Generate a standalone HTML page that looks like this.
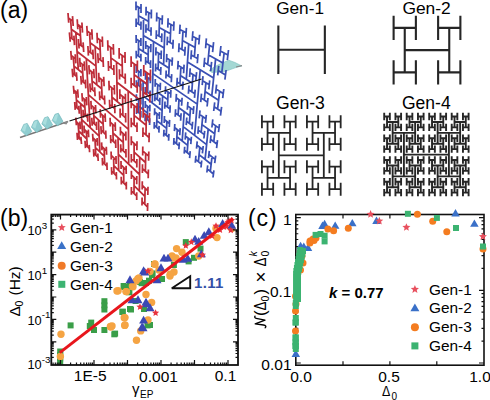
<!DOCTYPE html><html><head><meta charset="utf-8"><style>
html,body{margin:0;padding:0;background:#fff;width:490px;height:400px;overflow:hidden}
svg{display:block}
text{font-family:"Liberation Sans",sans-serif}
</style></head><body>
<svg width="490" height="400" viewBox="0 0 490 400">
<rect width="490" height="400" fill="#fff"/>
<path d="M20 137.5 L68 121.5" stroke="#777" stroke-width="1.6"/>
<path d="M209 70.5 L215 66.5 L222 63 L228.7 60.2 L235 62.5 L241.7 65.9 L236 67.5 L224.6 71.6 L212 72.5 Z" fill="#9ad4cf" fill-opacity="0.9" stroke="#7cc0bd" stroke-width="0.6"/>
<path d="M236 67 L242 65.6" stroke="#888" stroke-width="1.2"/>
<path d="M153.5 41.5L152.3 103.0M200.2 69.7L194.6 135.4M152.9 73.6L197.2 104.1M143.5 18.6L143.3 51.5M164.8 30.5L163.6 64.7M143.4 35.4L164.2 48.0M138.5 7.2L138.5 24.2M148.7 12.6L148.5 30.0M138.5 15.8L148.6 21.4M136.0 1.5L136.0 10.2M141.0 4.1L141.0 12.9M136.0 5.9L141.0 8.5M136.1 18.6L136.1 26.9M141.0 21.4L140.9 29.8M136.1 22.8L140.9 25.6M146.1 6.8L146.0 15.6M151.4 9.6L151.3 18.5M146.1 11.3L151.3 14.1M146.0 24.3L145.9 32.7M151.1 27.2L151.0 35.8M145.9 28.5L151.1 31.5M138.5 40.5L138.5 56.1M148.3 46.6L148.1 62.5M138.5 48.4L148.2 54.7M136.1 35.0L136.2 43.0M140.9 38.0L140.9 46.0M136.2 39.0L140.9 42.0M136.2 50.8L136.3 58.4M140.9 53.8L140.9 61.5M136.2 54.6L140.9 57.7M145.8 41.0L145.8 49.1M150.9 44.1L150.7 52.3M145.8 45.1L150.8 48.2M145.7 57.0L145.6 64.7M150.6 60.2L150.5 68.0M145.7 60.9L150.6 64.2M159.5 18.4L159.0 36.1M170.9 24.5L170.1 42.6M159.2 27.4L170.5 33.7M156.8 12.4L156.6 21.4M162.4 15.3L162.1 24.5M156.7 17.0L162.3 19.9M156.4 30.3L156.2 38.9M161.9 33.4L161.6 42.1M156.3 34.6L161.7 37.7M168.1 18.3L167.8 27.6M174.0 21.4L173.6 30.8M168.0 23.0L173.8 26.1M167.5 36.6L167.1 45.3M173.2 39.8L172.8 48.7M167.3 41.0L173.0 44.3M158.6 53.1L158.1 69.2M169.4 59.9L168.7 76.3M158.3 61.2L169.1 68.2M156.0 47.3L155.8 55.5M161.3 50.6L161.1 58.9M155.9 51.4L161.2 54.7M155.7 63.6L155.5 71.4M160.9 67.0L160.6 74.9M155.6 67.5L160.7 71.0M166.8 53.9L166.5 62.3M172.4 57.4L172.0 65.8M166.6 58.1L172.2 61.6M166.2 70.5L165.9 78.5M171.7 74.1L171.3 82.2M166.0 74.5L171.5 78.1M143.1 81.7L143.0 109.5M162.6 95.9L161.6 124.5M143.1 95.9L162.1 110.5M138.6 71.1L138.6 85.5M147.9 77.7L147.7 92.3M138.6 78.4L147.8 85.1M136.3 65.8L136.3 73.1M140.9 69.0L140.9 76.4M136.3 69.5L140.9 72.7M136.4 80.3L136.4 87.3M140.8 83.6L140.8 90.7M136.4 83.8L140.8 87.1M145.6 72.3L145.5 79.7M150.4 75.7L150.3 83.2M145.5 76.0L150.3 79.4M145.4 87.0L145.4 94.1M150.1 90.5L150.0 97.6M145.4 90.6L150.1 94.1M138.6 99.3L138.6 112.5M147.6 106.3L147.4 119.7M138.6 106.0L147.5 113.1M136.4 94.2L136.4 100.9M140.8 97.6L140.8 104.4M136.4 97.6L140.8 101.0M136.5 107.5L136.5 114.0M140.8 111.0L140.8 117.5M136.5 110.8L140.8 114.3M145.3 101.1L145.3 107.9M149.9 104.7L149.8 111.5M145.3 104.5L149.9 108.1M145.2 114.6L145.1 121.2M149.7 118.3L149.6 124.9M145.2 117.9L149.7 121.6M157.7 84.7L157.3 99.5M168.1 92.0L167.5 107.1M157.5 92.2L167.8 99.6M155.3 79.1L155.1 86.7M160.4 82.7L160.2 90.3M155.2 82.9L160.3 86.5M155.0 94.0L154.8 101.3M159.9 97.7L159.7 105.0M154.9 97.7L159.8 101.4M165.6 86.3L165.3 94.0M170.9 90.0L170.6 97.8M165.4 90.2L170.8 93.9M165.0 101.5L164.7 108.8M170.2 105.3L169.9 112.7M164.9 105.1L170.1 109.0M157.0 113.7L156.6 127.3M166.9 121.5L166.3 135.3M156.8 120.6L166.6 128.4M154.7 108.3L154.5 115.3M159.5 112.1L159.3 119.1M154.6 111.8L159.4 115.6M154.3 122.0L154.2 128.7M159.1 125.9L158.9 132.6M154.3 125.4L159.0 129.3M164.5 116.0L164.2 123.0M169.6 119.9L169.3 127.0M164.3 119.5L169.4 123.5M164.0 129.8L163.7 136.6M168.9 133.9L168.6 140.7M163.8 133.2L168.8 137.3M188.7 43.9L186.3 79.4M215.6 58.9L211.8 95.8M187.5 62.0L213.6 77.9M183.0 31.0L181.9 49.5M195.8 37.9L194.4 56.8M182.4 40.4L195.1 47.5M180.1 24.6L179.6 34.0M186.4 27.9L185.8 37.4M179.9 29.4L186.1 32.7M179.1 43.2L178.7 52.2M185.2 46.7L184.7 55.8M178.9 47.7L185.0 51.3M192.9 31.3L192.2 40.9M199.6 34.8L198.8 44.5M192.5 36.2L199.2 39.7M191.5 50.3L190.9 59.4M198.0 54.0L197.3 63.2M191.2 54.9L197.6 58.6M180.9 67.1L179.9 83.8M193.0 74.7L191.8 91.7M180.4 75.5L192.4 83.3M178.2 60.9L177.7 69.5M184.1 64.6L183.6 73.2M178.0 65.2L183.9 68.9M177.3 77.8L176.8 85.9M183.1 81.6L182.6 89.8M177.1 81.9L182.8 85.7M190.2 68.3L189.6 77.0M196.6 72.2L195.8 81.0M189.9 72.7L196.2 76.6M189.0 85.5L188.4 93.8M195.2 89.6L194.5 97.9M188.7 89.7L194.8 93.8M209.5 45.3L207.7 64.5M224.1 53.1L221.8 72.7M208.6 55.0L222.9 63.0M206.4 38.4L205.6 48.3M213.6 42.2L212.6 52.1M206.0 43.4L213.1 47.2M204.7 57.8L203.9 67.1M211.6 61.8L210.7 71.2M204.3 62.5L211.1 66.5M220.9 46.0L219.8 56.1M228.5 50.0L227.3 60.1M220.3 51.1L227.9 55.1M218.7 65.8L217.7 75.3M226.1 70.0L224.9 79.6M218.2 70.6L225.5 74.9M205.9 82.7L204.3 100.1M219.6 91.3L217.6 109.0M205.1 91.5L218.6 100.3M203.0 76.2L202.2 85.1M209.7 80.3L208.8 89.3M202.6 80.7L209.3 84.8M201.5 93.7L200.7 102.1M208.0 98.0L207.1 106.5M201.1 97.9L207.5 102.3M216.6 84.6L215.6 93.6M223.8 89.0L222.7 98.1M216.1 89.1L223.2 93.6M214.7 102.4L213.7 111.0M221.6 106.9L220.5 115.6M214.2 106.7L221.0 111.3M184.2 111.6L182.2 141.0M208.2 129.1L205.1 159.4M183.2 126.6L206.6 144.6M179.0 99.8L178.1 115.0M190.5 108.0L189.4 123.4M178.5 107.5L189.9 115.8M176.4 93.9L176.0 101.7M182.1 97.8L181.6 105.7M176.2 97.8L181.8 101.8M175.6 109.3L175.2 116.7M181.1 113.3L180.6 120.8M175.4 113.0L180.9 117.1M187.9 101.9L187.3 109.8M193.8 106.1L193.2 114.0M187.6 105.9L193.5 110.1M186.8 117.5L186.2 125.1M192.6 121.8L192.0 129.4M186.5 121.3L192.3 125.6M177.3 129.6L176.5 143.6M188.2 138.2L187.2 152.4M176.9 136.7L187.7 145.4M174.8 124.0L174.4 131.1M180.2 128.1L179.7 135.3M174.6 127.5L180.0 131.7M174.0 138.0L173.7 144.9M179.3 142.3L178.9 149.2M173.9 141.5L179.1 145.8M185.7 132.4L185.2 139.6M191.4 136.8L190.8 144.1M185.4 136.0L191.1 140.5M184.7 146.7L184.2 153.6M190.2 151.2L189.6 158.1M184.4 150.2L189.9 154.7M202.7 116.6L201.2 132.3M215.6 125.8L213.8 141.7M202.0 124.6L214.7 133.8M200.0 110.4L199.2 118.4M206.3 114.8L205.5 122.9M199.6 114.4L205.9 118.8M198.5 126.2L197.9 133.9M204.7 130.8L203.9 138.5M198.2 130.1L204.3 134.6M212.8 119.3L211.9 127.5M219.5 124.0L218.5 132.2M212.3 123.4L219.0 128.1M211.0 135.4L210.2 143.2M217.5 140.2L216.6 148.1M210.6 139.3L217.1 144.2M199.8 147.3L198.4 161.7M212.0 156.9L210.3 171.4M199.1 154.6L211.2 164.3M197.2 141.3L196.5 148.6M203.2 146.0L202.4 153.3M196.8 145.0L202.8 149.7M195.9 155.8L195.3 162.8M201.7 160.5L201.0 167.5M195.6 159.3L201.4 164.1M209.3 150.8L208.5 158.2M215.7 155.7L214.7 163.1M208.9 154.5L215.2 159.4M207.7 165.4L206.9 172.5M213.9 170.4L213.0 177.5M207.3 168.9L213.4 174.0" stroke="#3a50b4" stroke-width="1.75" fill="none" stroke-linecap="butt"/>
<path d="M86.3 58.6L90.2 127.7M128.2 91.0L128.7 164.2M88.3 94.7L128.5 129.4M75.8 32.5L78.3 69.6M95.1 46.4L96.8 84.8M77.1 51.5L96.0 66.1M70.6 19.5L72.0 38.7M79.8 25.9L81.1 45.5M71.3 29.2L80.5 35.8M68.0 13.0L68.7 22.8M72.5 16.1L73.2 26.0M68.4 17.9L72.9 21.1M69.4 32.4L70.2 41.8M73.9 35.6L74.5 45.1M69.8 37.1L74.2 40.4M77.2 19.3L77.8 29.2M81.9 22.5L82.5 32.6M77.5 24.3L82.2 27.6M78.4 39.0L79.1 48.5M83.1 42.4L83.7 52.0M78.7 43.8L83.4 47.3M73.3 57.1L74.6 74.8M82.2 64.2L83.3 82.1M74.0 66.1L82.8 73.3M70.8 50.9L71.5 59.9M75.2 54.3L75.8 63.4M71.2 55.4L75.5 58.9M72.2 68.7L72.8 77.3M76.4 72.2L77.0 80.9M72.5 73.0L76.7 76.6M79.7 57.8L80.2 67.0M84.2 61.4L84.8 70.6M80.0 62.4L84.5 66.1M80.8 75.9L81.4 84.6M85.3 79.6L85.8 88.4M81.1 80.3L85.6 84.0M89.6 32.7L90.6 52.6M99.8 39.9L100.6 60.2M90.1 42.8L100.2 50.1M86.8 25.9L87.4 36.0M91.8 29.3L92.3 39.6M87.1 31.0L92.1 34.5M87.9 46.0L88.4 55.6M92.8 49.6L93.3 59.3M88.2 50.8L93.0 54.5M97.0 32.8L97.4 43.2M102.3 36.5L102.6 46.9M97.2 38.0L102.5 41.7M97.8 53.3L98.3 63.1M103.0 57.1L103.4 67.0M98.1 58.2L103.2 62.1M91.6 71.7L92.5 89.8M101.4 79.5L102.1 97.9M92.0 80.9L101.7 88.8M88.9 65.1L89.4 74.4M93.7 68.9L94.2 78.2M89.2 69.8L94.0 73.6M89.9 83.4L90.4 92.3M94.6 87.3L95.1 96.3M90.2 87.9L94.8 91.8M98.7 72.8L99.1 82.2M103.7 76.7L104.1 86.2M98.9 77.5L103.9 81.5M99.5 91.4L99.8 100.3M104.4 95.5L104.8 104.5M99.7 95.9L104.6 100.0M80.6 103.7L82.7 135.0M98.4 119.8L99.9 151.9M81.7 119.6L99.2 136.2M75.8 91.7L77.0 107.9M84.4 99.3L85.4 115.7M76.4 99.8L84.9 107.5M73.4 85.7L74.1 93.9M77.6 89.4L78.2 97.7M73.7 89.8L77.9 93.5M74.7 102.0L75.2 109.9M78.8 105.8L79.3 113.7M75.0 106.0L79.1 109.8M81.9 93.1L82.5 101.5M86.3 97.0L86.8 105.4M82.2 97.3L86.6 101.2M83.0 109.7L83.5 117.7M87.3 113.6L87.8 121.7M83.3 113.7L87.6 117.7M78.1 123.4L79.2 138.4M86.4 131.4L87.3 146.5M78.7 131.0L86.9 139.0M75.8 117.6L76.4 125.2M79.9 121.5L80.4 129.2M76.1 121.5L80.2 125.4M77.0 132.7L77.5 140.0M80.9 136.7L81.5 144.0M77.2 136.4L81.2 140.4M84.0 125.5L84.5 133.2M88.3 129.6L88.7 137.3M84.3 129.4L88.5 133.5M85.0 140.7L85.5 148.1M89.2 144.9L89.6 152.3M85.3 144.4L89.4 148.6M93.4 107.2L94.2 123.8M102.8 115.6L103.5 132.4M93.8 115.6L103.1 124.1M90.9 100.9L91.3 109.4M95.5 105.0L95.9 113.5M91.1 105.2L95.7 109.3M91.8 117.7L92.2 125.8M96.3 121.8L96.7 130.0M92.0 121.8L96.5 125.9M100.2 109.1L100.6 117.7M105.1 113.4L105.4 122.0M100.4 113.4L105.2 117.7M100.9 126.1L101.3 134.3M105.7 130.5L106.0 138.7M101.1 130.2L105.8 134.6M95.0 139.8L95.8 155.1M104.1 148.5L104.7 164.0M95.4 147.5L104.4 156.4M92.6 133.7L93.1 141.5M97.1 138.0L97.5 145.8M92.8 137.7L97.3 141.9M93.5 149.1L93.9 156.6M97.8 153.5L98.2 161.0M93.7 152.9L98.0 157.3M101.6 142.4L102.0 150.2M106.3 146.8L106.6 154.7M101.8 146.3L106.4 150.8M102.3 157.9L102.6 165.5M106.9 162.5L107.1 170.1M102.5 161.7L107.0 166.3M116.5 61.9L117.3 101.6M140.4 79.2L140.1 120.2M116.9 82.2L140.2 100.3M110.6 47.4L111.2 68.1M122.1 55.4L122.4 76.4M110.9 57.9L122.2 66.1M107.7 40.2L108.0 50.7M113.3 44.0L113.6 54.7M107.9 45.5L113.4 49.4M108.3 61.0L108.6 71.0M113.8 65.0L114.0 75.1M108.5 66.1L113.9 70.1M119.1 48.0L119.2 58.7M125.0 52.0L125.1 62.9M119.2 53.4L125.0 57.5M119.4 69.2L119.6 79.4M125.2 73.4L125.3 83.7M119.5 74.3L125.2 78.6M111.7 87.7L112.2 106.5M122.6 96.4L122.9 115.4M112.0 97.2L122.8 106.1M108.9 80.8L109.2 90.4M114.3 85.0L114.5 94.6M109.1 85.6L114.4 89.9M109.5 99.7L109.8 108.8M114.7 104.0L114.9 113.2M109.6 104.3L114.8 108.7M119.8 89.3L119.9 99.0M125.4 93.7L125.5 103.5M119.8 94.2L125.4 98.7M120.1 108.5L120.2 117.8M125.6 113.1L125.7 122.4M120.2 113.2L125.6 117.8M134.2 63.9L134.2 85.3M147.0 72.8L146.7 94.6M134.2 74.7L146.9 83.9M131.1 56.2L131.1 67.1M137.4 60.5L137.3 71.5M131.1 61.7L137.3 66.1M131.1 77.8L131.2 88.2M137.2 82.3L137.2 92.8M131.1 83.0L137.2 87.6M143.8 64.9L143.7 76.1M150.5 69.5L150.3 80.8M143.8 70.5L150.4 75.2M143.5 86.9L143.4 97.5M150.0 91.7L149.8 102.4M143.5 92.2L149.9 97.1M134.1 105.6L134.1 124.9M146.3 115.3L146.0 134.9M134.1 115.4L146.2 125.2M131.2 98.3L131.2 108.2M137.1 103.0L137.1 112.9M131.2 103.3L137.1 108.0M131.2 117.8L131.3 127.2M137.0 122.6L137.0 132.1M131.2 122.5L137.0 127.4M143.3 107.8L143.1 117.8M149.6 112.7L149.4 122.8M143.2 112.8L149.5 117.8M143.0 127.6L142.9 137.1M149.2 132.7L149.0 142.3M143.0 132.4L149.1 137.5M118.0 137.6L118.7 170.4M139.7 157.3L139.4 190.9M118.4 154.4L139.6 174.5M112.7 124.3L113.2 141.4M123.1 133.6L123.4 150.9M112.9 133.0L123.2 142.3M110.1 117.7L110.3 126.4M115.2 122.2L115.4 131.0M110.2 122.1L115.3 126.6M110.6 134.9L110.8 143.3M115.6 139.5L115.8 147.9M110.7 139.1L115.7 143.7M120.4 126.8L120.5 135.6M125.8 131.5L125.9 140.4M120.5 131.2L125.8 136.0M120.7 144.2L120.8 152.6M125.9 149.0L126.0 157.5M120.8 148.5L126.0 153.3M113.6 157.7L114.0 173.4M123.6 167.4L123.8 183.2M113.8 165.6L123.7 175.4M111.1 151.4L111.3 159.4M116.0 156.1L116.1 164.1M111.2 155.4L116.1 160.1M111.5 167.1L111.8 174.8M116.3 171.9L116.5 179.6M111.7 171.0L116.4 175.8M121.0 160.9L121.1 168.9M126.1 165.8L126.2 173.9M121.0 164.9L126.1 169.9M121.2 176.8L121.4 184.5M126.3 181.8L126.3 189.5M121.3 180.7L126.3 185.7M134.1 143.3L134.1 160.8M145.7 153.6L145.4 171.3M134.1 152.2L145.5 162.5M131.3 136.3L131.3 145.3M137.0 141.3L136.9 150.3M131.3 140.8L136.9 145.8M131.3 154.0L131.4 162.5M136.9 159.1L136.8 167.6M131.3 158.3L136.8 163.4M142.8 146.4L142.7 155.4M148.8 151.6L148.6 160.7M142.7 150.9L148.7 156.2M142.5 164.3L142.4 172.9M148.4 169.6L148.2 178.3M142.5 168.6L148.3 174.0M134.1 177.5L134.0 193.5M145.1 188.2L144.8 204.3M134.0 185.6L144.9 196.3M131.4 170.8L131.4 179.0M136.8 176.0L136.7 184.2M131.4 174.9L136.8 180.1M131.4 186.9L131.4 194.7M136.7 192.2L136.7 200.0M131.4 190.8L136.7 196.1M142.3 181.3L142.2 189.5M148.0 186.8L147.8 195.0M142.3 185.5L147.9 190.9M142.1 197.6L142.0 205.4M147.7 203.1L147.5 211.0M142.1 201.5L147.6 207.1" stroke="#be2c38" stroke-width="1.75" fill="none" stroke-linecap="butt"/>
<path d="M69.5 121 L201.5 79" stroke="#111" stroke-width="1.3"/>
<polygon points="21.0,130.6 23.8,124.4 27.2,123.4 31.8,131.6 26.2,135.8" fill="#8fcdd0" stroke="#72b8bc" stroke-width="0.7" stroke-linejoin="round"/>
<polygon points="21.8,130.0 24.2,124.8 27.0,124.0 25.0,131.8" fill="#a9dede"/>
<polygon points="31.4,127.2 34.2,121.0 37.6,120.0 42.2,128.2 36.6,132.4" fill="#8fcdd0" stroke="#72b8bc" stroke-width="0.7" stroke-linejoin="round"/>
<polygon points="32.2,126.7 34.6,121.5 37.4,120.7 35.4,128.4" fill="#a9dede"/>
<polygon points="41.8,123.9 44.6,117.7 48.0,116.7 52.6,124.9 47.0,129.1" fill="#8fcdd0" stroke="#72b8bc" stroke-width="0.7" stroke-linejoin="round"/>
<polygon points="42.6,123.3 45.0,118.1 47.8,117.3 45.8,125.1" fill="#a9dede"/>
<polygon points="52.2,120.5 55.0,114.3 58.4,113.3 63.0,121.5 57.4,125.8" fill="#8fcdd0" stroke="#72b8bc" stroke-width="0.7" stroke-linejoin="round"/>
<polygon points="53.0,120.0 55.4,114.8 58.2,114.0 56.2,121.8" fill="#a9dede"/>
<path d="M62 123.5 L68.5 120.8 L66.5 124.5 Z" fill="#8a8a8a"/>
<text x="0" y="18.3" font-size="23" fill="#000">(a)</text>
<path d="M278.35 26.55L278.35 73.05M324.85 26.55L324.85 73.05M278.35 49.80L324.85 49.80" stroke="#262626" stroke-width="2.1" fill="none" stroke-linecap="square"/>
<path d="M404.75 27.85L404.75 72.35M449.25 27.85L449.25 72.35M404.75 50.10L449.25 50.10M393.62 16.73L393.62 38.98M415.88 16.73L415.88 38.98M393.62 27.85L415.88 27.85M393.62 61.22L393.62 83.47M415.88 61.22L415.88 83.47M393.62 72.35L415.88 72.35M438.12 16.73L438.12 38.98M460.38 16.73L460.38 38.98M438.12 27.85L460.38 27.85M438.12 61.22L438.12 83.47M460.38 61.22L460.38 83.47M438.12 72.35L460.38 72.35" stroke="#262626" stroke-width="2.1" fill="none" stroke-linecap="square"/>
<path d="M278.80 132.90L278.80 177.90M323.80 132.90L323.80 177.90M278.80 155.40L323.80 155.40M267.55 121.65L267.55 144.15M290.05 121.65L290.05 144.15M267.55 132.90L290.05 132.90M261.93 116.03L261.93 127.28M273.18 116.03L273.18 127.28M261.93 121.65L273.18 121.65M261.93 138.53L261.93 149.78M273.18 138.53L273.18 149.78M261.93 144.15L273.18 144.15M284.43 116.03L284.43 127.28M295.68 116.03L295.68 127.28M284.43 121.65L295.68 121.65M284.43 138.53L284.43 149.78M295.68 138.53L295.68 149.78M284.43 144.15L295.68 144.15M267.55 166.65L267.55 189.15M290.05 166.65L290.05 189.15M267.55 177.90L290.05 177.90M261.93 161.03L261.93 172.28M273.18 161.03L273.18 172.28M261.93 166.65L273.18 166.65M261.93 183.53L261.93 194.78M273.18 183.53L273.18 194.78M261.93 189.15L273.18 189.15M284.43 161.03L284.43 172.28M295.68 161.03L295.68 172.28M284.43 166.65L295.68 166.65M284.43 183.53L284.43 194.78M295.68 183.53L295.68 194.78M284.43 189.15L295.68 189.15M312.55 121.65L312.55 144.15M335.05 121.65L335.05 144.15M312.55 132.90L335.05 132.90M306.93 116.03L306.93 127.28M318.18 116.03L318.18 127.28M306.93 121.65L318.18 121.65M306.93 138.53L306.93 149.78M318.18 138.53L318.18 149.78M306.93 144.15L318.18 144.15M329.43 116.03L329.43 127.28M340.68 116.03L340.68 127.28M329.43 121.65L340.68 121.65M329.43 138.53L329.43 149.78M340.68 138.53L340.68 149.78M329.43 144.15L340.68 144.15M312.55 166.65L312.55 189.15M335.05 166.65L335.05 189.15M312.55 177.90L335.05 177.90M306.93 161.03L306.93 172.28M318.18 161.03L318.18 172.28M306.93 166.65L318.18 166.65M306.93 183.53L306.93 194.78M318.18 183.53L318.18 194.78M306.93 189.15L318.18 189.15M329.43 161.03L329.43 172.28M340.68 161.03L340.68 172.28M329.43 166.65L340.68 166.65M329.43 183.53L329.43 194.78M340.68 183.53L340.68 194.78M329.43 189.15L340.68 189.15" stroke="#262626" stroke-width="1.8" fill="none" stroke-linecap="square"/>
<path d="M403.90 132.85L403.90 176.35M448.90 132.85L448.90 176.35M403.90 154.60L448.90 154.60M392.65 121.97L392.65 143.72M415.15 121.97L415.15 143.72M392.65 132.85L415.15 132.85M387.02 116.54L387.02 127.41M398.27 116.54L398.27 127.41M387.02 121.97L398.27 121.97M384.21 113.82L384.21 119.26M389.84 113.82L389.84 119.26M384.21 116.54L389.84 116.54M384.21 124.69L384.21 130.13M389.84 124.69L389.84 130.13M384.21 127.41L389.84 127.41M395.46 113.82L395.46 119.26M401.09 113.82L401.09 119.26M395.46 116.54L401.09 116.54M395.46 124.69L395.46 130.13M401.09 124.69L401.09 130.13M395.46 127.41L401.09 127.41M387.02 138.29L387.02 149.16M398.27 138.29L398.27 149.16M387.02 143.72L398.27 143.72M384.21 135.57L384.21 141.01M389.84 135.57L389.84 141.01M384.21 138.29L389.84 138.29M384.21 146.44L384.21 151.88M389.84 146.44L389.84 151.88M384.21 149.16L389.84 149.16M395.46 135.57L395.46 141.01M401.09 135.57L401.09 141.01M395.46 138.29L401.09 138.29M395.46 146.44L395.46 151.88M401.09 146.44L401.09 151.88M395.46 149.16L401.09 149.16M409.52 116.54L409.52 127.41M420.77 116.54L420.77 127.41M409.52 121.97L420.77 121.97M406.71 113.82L406.71 119.26M412.34 113.82L412.34 119.26M406.71 116.54L412.34 116.54M406.71 124.69L406.71 130.13M412.34 124.69L412.34 130.13M406.71 127.41L412.34 127.41M417.96 113.82L417.96 119.26M423.59 113.82L423.59 119.26M417.96 116.54L423.59 116.54M417.96 124.69L417.96 130.13M423.59 124.69L423.59 130.13M417.96 127.41L423.59 127.41M409.52 138.29L409.52 149.16M420.77 138.29L420.77 149.16M409.52 143.72L420.77 143.72M406.71 135.57L406.71 141.01M412.34 135.57L412.34 141.01M406.71 138.29L412.34 138.29M406.71 146.44L406.71 151.88M412.34 146.44L412.34 151.88M406.71 149.16L412.34 149.16M417.96 135.57L417.96 141.01M423.59 135.57L423.59 141.01M417.96 138.29L423.59 138.29M417.96 146.44L417.96 151.88M423.59 146.44L423.59 151.88M417.96 149.16L423.59 149.16M392.65 165.47L392.65 187.22M415.15 165.47L415.15 187.22M392.65 176.35L415.15 176.35M387.02 160.04L387.02 170.91M398.27 160.04L398.27 170.91M387.02 165.47L398.27 165.47M384.21 157.32L384.21 162.76M389.84 157.32L389.84 162.76M384.21 160.04L389.84 160.04M384.21 168.19L384.21 173.63M389.84 168.19L389.84 173.63M384.21 170.91L389.84 170.91M395.46 157.32L395.46 162.76M401.09 157.32L401.09 162.76M395.46 160.04L401.09 160.04M395.46 168.19L395.46 173.63M401.09 168.19L401.09 173.63M395.46 170.91L401.09 170.91M387.02 181.79L387.02 192.66M398.27 181.79L398.27 192.66M387.02 187.22L398.27 187.22M384.21 179.07L384.21 184.51M389.84 179.07L389.84 184.51M384.21 181.79L389.84 181.79M384.21 189.94L384.21 195.38M389.84 189.94L389.84 195.38M384.21 192.66L389.84 192.66M395.46 179.07L395.46 184.51M401.09 179.07L401.09 184.51M395.46 181.79L401.09 181.79M395.46 189.94L395.46 195.38M401.09 189.94L401.09 195.38M395.46 192.66L401.09 192.66M409.52 160.04L409.52 170.91M420.77 160.04L420.77 170.91M409.52 165.47L420.77 165.47M406.71 157.32L406.71 162.76M412.34 157.32L412.34 162.76M406.71 160.04L412.34 160.04M406.71 168.19L406.71 173.63M412.34 168.19L412.34 173.63M406.71 170.91L412.34 170.91M417.96 157.32L417.96 162.76M423.59 157.32L423.59 162.76M417.96 160.04L423.59 160.04M417.96 168.19L417.96 173.63M423.59 168.19L423.59 173.63M417.96 170.91L423.59 170.91M409.52 181.79L409.52 192.66M420.77 181.79L420.77 192.66M409.52 187.22L420.77 187.22M406.71 179.07L406.71 184.51M412.34 179.07L412.34 184.51M406.71 181.79L412.34 181.79M406.71 189.94L406.71 195.38M412.34 189.94L412.34 195.38M406.71 192.66L412.34 192.66M417.96 179.07L417.96 184.51M423.59 179.07L423.59 184.51M417.96 181.79L423.59 181.79M417.96 189.94L417.96 195.38M423.59 189.94L423.59 195.38M417.96 192.66L423.59 192.66M437.65 121.97L437.65 143.72M460.15 121.97L460.15 143.72M437.65 132.85L460.15 132.85M432.02 116.54L432.02 127.41M443.27 116.54L443.27 127.41M432.02 121.97L443.27 121.97M429.21 113.82L429.21 119.26M434.84 113.82L434.84 119.26M429.21 116.54L434.84 116.54M429.21 124.69L429.21 130.13M434.84 124.69L434.84 130.13M429.21 127.41L434.84 127.41M440.46 113.82L440.46 119.26M446.09 113.82L446.09 119.26M440.46 116.54L446.09 116.54M440.46 124.69L440.46 130.13M446.09 124.69L446.09 130.13M440.46 127.41L446.09 127.41M432.02 138.29L432.02 149.16M443.27 138.29L443.27 149.16M432.02 143.72L443.27 143.72M429.21 135.57L429.21 141.01M434.84 135.57L434.84 141.01M429.21 138.29L434.84 138.29M429.21 146.44L429.21 151.88M434.84 146.44L434.84 151.88M429.21 149.16L434.84 149.16M440.46 135.57L440.46 141.01M446.09 135.57L446.09 141.01M440.46 138.29L446.09 138.29M440.46 146.44L440.46 151.88M446.09 146.44L446.09 151.88M440.46 149.16L446.09 149.16M454.52 116.54L454.52 127.41M465.77 116.54L465.77 127.41M454.52 121.97L465.77 121.97M451.71 113.82L451.71 119.26M457.34 113.82L457.34 119.26M451.71 116.54L457.34 116.54M451.71 124.69L451.71 130.13M457.34 124.69L457.34 130.13M451.71 127.41L457.34 127.41M462.96 113.82L462.96 119.26M468.59 113.82L468.59 119.26M462.96 116.54L468.59 116.54M462.96 124.69L462.96 130.13M468.59 124.69L468.59 130.13M462.96 127.41L468.59 127.41M454.52 138.29L454.52 149.16M465.77 138.29L465.77 149.16M454.52 143.72L465.77 143.72M451.71 135.57L451.71 141.01M457.34 135.57L457.34 141.01M451.71 138.29L457.34 138.29M451.71 146.44L451.71 151.88M457.34 146.44L457.34 151.88M451.71 149.16L457.34 149.16M462.96 135.57L462.96 141.01M468.59 135.57L468.59 141.01M462.96 138.29L468.59 138.29M462.96 146.44L462.96 151.88M468.59 146.44L468.59 151.88M462.96 149.16L468.59 149.16M437.65 165.47L437.65 187.22M460.15 165.47L460.15 187.22M437.65 176.35L460.15 176.35M432.02 160.04L432.02 170.91M443.27 160.04L443.27 170.91M432.02 165.47L443.27 165.47M429.21 157.32L429.21 162.76M434.84 157.32L434.84 162.76M429.21 160.04L434.84 160.04M429.21 168.19L429.21 173.63M434.84 168.19L434.84 173.63M429.21 170.91L434.84 170.91M440.46 157.32L440.46 162.76M446.09 157.32L446.09 162.76M440.46 160.04L446.09 160.04M440.46 168.19L440.46 173.63M446.09 168.19L446.09 173.63M440.46 170.91L446.09 170.91M432.02 181.79L432.02 192.66M443.27 181.79L443.27 192.66M432.02 187.22L443.27 187.22M429.21 179.07L429.21 184.51M434.84 179.07L434.84 184.51M429.21 181.79L434.84 181.79M429.21 189.94L429.21 195.38M434.84 189.94L434.84 195.38M429.21 192.66L434.84 192.66M440.46 179.07L440.46 184.51M446.09 179.07L446.09 184.51M440.46 181.79L446.09 181.79M440.46 189.94L440.46 195.38M446.09 189.94L446.09 195.38M440.46 192.66L446.09 192.66M454.52 160.04L454.52 170.91M465.77 160.04L465.77 170.91M454.52 165.47L465.77 165.47M451.71 157.32L451.71 162.76M457.34 157.32L457.34 162.76M451.71 160.04L457.34 160.04M451.71 168.19L451.71 173.63M457.34 168.19L457.34 173.63M451.71 170.91L457.34 170.91M462.96 157.32L462.96 162.76M468.59 157.32L468.59 162.76M462.96 160.04L468.59 160.04M462.96 168.19L462.96 173.63M468.59 168.19L468.59 173.63M462.96 170.91L468.59 170.91M454.52 181.79L454.52 192.66M465.77 181.79L465.77 192.66M454.52 187.22L465.77 187.22M451.71 179.07L451.71 184.51M457.34 179.07L457.34 184.51M451.71 181.79L457.34 181.79M451.71 189.94L451.71 195.38M457.34 189.94L457.34 195.38M451.71 192.66L457.34 192.66M462.96 179.07L462.96 184.51M468.59 179.07L468.59 184.51M462.96 181.79L468.59 181.79M462.96 189.94L462.96 195.38M468.59 189.94L468.59 195.38M462.96 192.66L468.59 192.66" stroke="#262626" stroke-width="1.9" fill="none" stroke-linecap="square"/>
<text x="276.2" y="13.6" font-size="17.2">Gen-1</text>
<text x="402.4" y="13.8" font-size="17.4">Gen-2</text>
<text x="276" y="109.2" font-size="17.6">Gen-3</text>
<text x="402" y="109.2" font-size="17.5">Gen-4</text>
<g clip-path="url(#clipb)">
<clipPath id="clipb"><rect x="51.3" y="214.6" width="186.7" height="150.4"/></clipPath>
<rect x="126.40" y="289.30" width="6.00" height="6.00" fill="#3a9e48"/>
<rect x="146.00" y="277.70" width="6.00" height="6.00" fill="#3a9e48"/>
<rect x="138.60" y="280.20" width="6.00" height="6.00" fill="#3a9e48"/>
<rect x="149.60" y="270.40" width="6.00" height="6.00" fill="#3a9e48"/>
<rect x="57.20" y="348.50" width="6.00" height="6.00" fill="#3a9e48"/>
<rect x="57.20" y="352.00" width="6.00" height="6.00" fill="#3a9e48"/>
<rect x="57.20" y="355.50" width="6.00" height="6.00" fill="#3a9e48"/>
<rect x="57.20" y="359.00" width="6.00" height="6.00" fill="#3a9e48"/>
<rect x="67.60" y="322.40" width="6.00" height="6.00" fill="#3a9e48"/>
<rect x="86.80" y="323.00" width="6.00" height="6.00" fill="#3a9e48"/>
<rect x="88.20" y="319.60" width="6.00" height="6.00" fill="#3a9e48"/>
<rect x="91.00" y="327.00" width="6.00" height="6.00" fill="#3a9e48"/>
<rect x="101.40" y="298.20" width="6.00" height="6.00" fill="#3a9e48"/>
<rect x="101.40" y="302.30" width="6.00" height="6.00" fill="#3a9e48"/>
<rect x="101.40" y="306.50" width="6.00" height="6.00" fill="#3a9e48"/>
<rect x="101.40" y="327.00" width="6.00" height="6.00" fill="#3a9e48"/>
<rect x="112.10" y="330.60" width="6.00" height="6.00" fill="#3a9e48"/>
<rect x="119.80" y="308.60" width="6.00" height="6.00" fill="#3a9e48"/>
<rect x="128.00" y="306.50" width="6.00" height="6.00" fill="#3a9e48"/>
<rect x="121.20" y="284.00" width="6.00" height="6.00" fill="#3a9e48"/>
<rect x="144.50" y="322.40" width="6.00" height="6.00" fill="#3a9e48"/>
<rect x="120.60" y="283.00" width="6.00" height="6.00" fill="#3a9e48"/>
<rect x="127.00" y="283.00" width="6.00" height="6.00" fill="#3a9e48"/>
<rect x="132.60" y="298.00" width="6.00" height="6.00" fill="#3a9e48"/>
<rect x="127.00" y="306.00" width="6.00" height="6.00" fill="#3a9e48"/>
<rect x="119.40" y="309.00" width="6.00" height="6.00" fill="#3a9e48"/>
<rect x="141.00" y="306.00" width="6.00" height="6.00" fill="#3a9e48"/>
<rect x="147.00" y="322.00" width="6.00" height="6.00" fill="#3a9e48"/>
<rect x="151.00" y="261.00" width="6.00" height="6.00" fill="#3a9e48"/>
<rect x="149.00" y="272.00" width="6.00" height="6.00" fill="#3a9e48"/>
<rect x="159.00" y="276.00" width="6.00" height="6.00" fill="#3a9e48"/>
<rect x="143.00" y="280.00" width="6.00" height="6.00" fill="#3a9e48"/>
<rect x="137.00" y="279.00" width="6.00" height="6.00" fill="#3a9e48"/>
<rect x="182.80" y="239.10" width="6.00" height="6.00" fill="#3a9e48"/>
<rect x="197.50" y="245.60" width="6.00" height="6.00" fill="#3a9e48"/>
<rect x="185.60" y="258.40" width="6.00" height="6.00" fill="#3a9e48"/>
<rect x="191.00" y="254.80" width="6.00" height="6.00" fill="#3a9e48"/>
<rect x="170.90" y="262.00" width="6.00" height="6.00" fill="#3a9e48"/>
<rect x="111.30" y="331.30" width="6.00" height="6.00" fill="#3a9e48"/>
<circle cx="133.00" cy="286.80" r="3.70" fill="#f5a443"/>
<circle cx="61.00" cy="334.20" r="3.70" fill="#f5a443"/>
<circle cx="60.40" cy="356.50" r="3.70" fill="#f5a443"/>
<circle cx="110.40" cy="326.50" r="3.70" fill="#f5a443"/>
<circle cx="118.10" cy="290.80" r="3.70" fill="#f5a443"/>
<circle cx="124.20" cy="317.70" r="3.70" fill="#f5a443"/>
<circle cx="124.70" cy="325.40" r="3.70" fill="#f5a443"/>
<circle cx="126.40" cy="291.60" r="3.70" fill="#f5a443"/>
<circle cx="136.50" cy="340.20" r="3.70" fill="#f5a443"/>
<circle cx="140.70" cy="330.90" r="3.70" fill="#f5a443"/>
<circle cx="132.40" cy="286.10" r="3.70" fill="#f5a443"/>
<circle cx="137.90" cy="278.70" r="3.70" fill="#f5a443"/>
<circle cx="117.00" cy="291.00" r="3.70" fill="#f5a443"/>
<circle cx="126.00" cy="291.60" r="3.70" fill="#f5a443"/>
<circle cx="139.00" cy="278.00" r="3.70" fill="#f5a443"/>
<circle cx="136.00" cy="281.00" r="3.70" fill="#f5a443"/>
<circle cx="146.00" cy="294.40" r="3.70" fill="#f5a443"/>
<circle cx="151.60" cy="302.40" r="3.70" fill="#f5a443"/>
<circle cx="148.00" cy="320.00" r="3.70" fill="#f5a443"/>
<circle cx="125.00" cy="317.60" r="3.70" fill="#f5a443"/>
<circle cx="125.00" cy="325.00" r="3.70" fill="#f5a443"/>
<circle cx="112.00" cy="326.00" r="3.70" fill="#f5a443"/>
<circle cx="170.00" cy="276.00" r="3.70" fill="#f5a443"/>
<circle cx="174.00" cy="272.00" r="3.70" fill="#f5a443"/>
<circle cx="176.00" cy="258.00" r="3.70" fill="#f5a443"/>
<circle cx="172.00" cy="256.00" r="3.70" fill="#f5a443"/>
<circle cx="155.00" cy="264.00" r="3.70" fill="#f5a443"/>
<circle cx="159.00" cy="270.00" r="3.70" fill="#f5a443"/>
<circle cx="176.60" cy="248.60" r="3.70" fill="#f5a443"/>
<circle cx="182.00" cy="252.20" r="3.70" fill="#f5a443"/>
<circle cx="173.00" cy="258.10" r="3.70" fill="#f5a443"/>
<circle cx="170.20" cy="274.30" r="3.70" fill="#f5a443"/>
<circle cx="154.60" cy="264.20" r="3.70" fill="#f5a443"/>
<circle cx="217.00" cy="237.60" r="3.70" fill="#f5a443"/>
<circle cx="216.00" cy="228.40" r="3.70" fill="#f5a443"/>
<circle cx="198.70" cy="256.00" r="3.70" fill="#f5a443"/>
<circle cx="231.70" cy="228.40" r="3.70" fill="#f5a443"/>
<circle cx="150.00" cy="271.50" r="3.70" fill="#f5a443"/>
<circle cx="110.80" cy="327.10" r="3.70" fill="#f5a443"/>
<polygon points="130.00,275.30 134.50,283.13 125.50,283.13" fill="#3b48b4"/>
<polygon points="143.60,266.30 148.10,274.13 139.10,274.13" fill="#3b48b4"/>
<polygon points="157.00,275.30 161.50,283.13 152.50,283.13" fill="#3b48b4"/>
<polygon points="161.00,263.30 165.50,271.13 156.50,271.13" fill="#3b48b4"/>
<polygon points="164.00,253.70 168.50,261.53 159.50,261.53" fill="#3b48b4"/>
<polygon points="168.00,253.70 172.50,261.53 163.50,261.53" fill="#3b48b4"/>
<polygon points="132.00,295.30 136.50,303.13 127.50,303.13" fill="#3b48b4"/>
<polygon points="138.00,295.30 142.50,303.13 133.50,303.13" fill="#3b48b4"/>
<polygon points="146.00,297.70 150.50,305.53 141.50,305.53" fill="#3b48b4"/>
<polygon points="150.00,303.30 154.50,311.13 145.50,311.13" fill="#3b48b4"/>
<polygon points="143.60,315.70 148.10,323.53 139.10,323.53" fill="#3b48b4"/>
<polygon points="143.00,323.30 147.50,331.13 138.50,331.13" fill="#3b48b4"/>
<polygon points="144.80,267.70 149.30,275.53 140.30,275.53" fill="#3b48b4"/>
<polygon points="146.20,299.30 150.70,307.13 141.70,307.13" fill="#3b48b4"/>
<polygon points="142.00,322.60 146.50,330.43 137.50,330.43" fill="#3b48b4"/>
<polygon points="187.70,254.00 192.20,261.83 183.20,261.83" fill="#3b48b4"/>
<polygon points="195.00,234.70 199.50,242.53 190.50,242.53" fill="#3b48b4"/>
<polygon points="198.70,236.90 203.20,244.73 194.20,244.73" fill="#3b48b4"/>
<polygon points="204.20,231.00 208.70,238.83 199.70,238.83" fill="#3b48b4"/>
<polygon points="208.80,227.30 213.30,235.13 204.30,235.13" fill="#3b48b4"/>
<polygon points="201.40,249.30 205.90,257.13 196.90,257.13" fill="#3b48b4"/>
<polygon points="222.60,219.10 227.10,226.93 218.10,226.93" fill="#3b48b4"/>
<polygon points="231.70,220.90 236.20,228.73 227.20,228.73" fill="#3b48b4"/>
<polygon points="183.00,254.90 187.50,262.73 178.50,262.73" fill="#3b48b4"/>
<polygon points="228.00,218.70 229.01,221.12 231.61,221.33 229.63,223.03 230.23,225.57 228.00,224.21 225.77,225.57 226.37,223.03 224.39,221.33 226.99,221.12" fill="#e8323c"/>
<polygon points="231.50,216.70 232.51,219.12 235.11,219.33 233.13,221.03 233.73,223.57 231.50,222.21 229.27,223.57 229.87,221.03 227.89,219.33 230.49,219.12" fill="#e8323c"/>
<polygon points="224.00,223.20 225.01,225.62 227.61,225.83 225.63,227.53 226.23,230.07 224.00,228.71 221.77,230.07 222.37,227.53 220.39,225.83 222.99,225.62" fill="#e8323c"/>
<polygon points="212.00,232.20 213.01,234.62 215.61,234.83 213.63,236.53 214.23,239.07 212.00,237.71 209.77,239.07 210.37,236.53 208.39,234.83 210.99,234.62" fill="#e8323c"/>
<polygon points="140.00,303.20 141.01,305.62 143.61,305.83 141.63,307.53 142.23,310.07 140.00,308.71 137.77,310.07 138.37,307.53 136.39,305.83 138.99,305.62" fill="#e8323c"/>
<polygon points="155.60,309.20 156.61,311.62 159.21,311.83 157.23,313.53 157.83,316.07 155.60,314.71 153.37,316.07 153.97,313.53 151.99,311.83 154.59,311.62" fill="#e8323c"/>
<polygon points="148.00,267.20 149.01,269.62 151.61,269.83 149.63,271.53 150.23,274.07 148.00,272.71 145.77,274.07 146.37,271.53 144.39,269.83 146.99,269.62" fill="#e8323c"/>
<polygon points="191.30,238.30 192.31,240.72 194.91,240.93 192.93,242.63 193.53,245.17 191.30,243.81 189.07,245.17 189.67,242.63 187.69,240.93 190.29,240.72" fill="#e8323c"/>
<polygon points="185.80,242.00 186.81,244.42 189.41,244.63 187.43,246.33 188.03,248.87 185.80,247.51 183.57,248.87 184.17,246.33 182.19,244.63 184.79,244.42" fill="#e8323c"/>
<polygon points="202.40,251.20 203.41,253.62 206.01,253.83 204.03,255.53 204.63,258.07 202.40,256.71 200.17,258.07 200.77,255.53 198.79,253.83 201.39,253.62" fill="#e8323c"/>
<polygon points="229.00,217.20 230.01,219.62 232.61,219.83 230.63,221.53 231.23,224.07 229.00,222.71 226.77,224.07 227.37,221.53 225.39,219.83 227.99,219.62" fill="#e8323c"/>
<polygon points="230.80,226.40 231.81,228.82 234.41,229.03 232.43,230.73 233.03,233.27 230.80,231.91 228.57,233.27 229.17,230.73 227.19,229.03 229.79,228.82" fill="#e8323c"/>
<polygon points="226.20,222.70 227.21,225.12 229.81,225.33 227.83,227.03 228.43,229.57 226.20,228.21 223.97,229.57 224.57,227.03 222.59,225.33 225.19,225.12" fill="#e8323c"/>
<polygon points="216.00,222.20 217.01,224.62 219.61,224.83 217.63,226.53 218.23,229.07 216.00,227.71 213.77,229.07 214.37,226.53 212.39,224.83 214.99,224.62" fill="#e8323c"/>
<polygon points="220.00,226.20 221.01,228.62 223.61,228.83 221.63,230.53 222.23,233.07 220.00,231.71 217.77,233.07 218.37,230.53 216.39,228.83 218.99,228.62" fill="#e8323c"/>
<path d="M59.8 352.6 L233 218.5" stroke="#e8161c" stroke-width="3"/>
</g>
<path d="M53.07 365.00v-2.50M53.07 214.60v2.50M55.31 365.00v-2.50M55.31 214.60v2.50M57.25 365.00v-2.50M57.25 214.60v2.50M58.97 365.00v-2.50M58.97 214.60v2.50M60.50 365.00v-5.00M60.50 214.60v5.00M70.58 365.00v-2.50M70.58 214.60v2.50M76.48 365.00v-2.50M76.48 214.60v2.50M80.67 365.00v-2.50M80.67 214.60v2.50M83.92 365.00v-2.50M83.92 214.60v2.50M86.57 365.00v-2.50M86.57 214.60v2.50M88.81 365.00v-2.50M88.81 214.60v2.50M90.75 365.00v-2.50M90.75 214.60v2.50M92.47 365.00v-2.50M92.47 214.60v2.50M94.00 365.00v-5.00M94.00 214.60v5.00M104.08 365.00v-2.50M104.08 214.60v2.50M109.98 365.00v-2.50M109.98 214.60v2.50M114.17 365.00v-2.50M114.17 214.60v2.50M117.42 365.00v-2.50M117.42 214.60v2.50M120.07 365.00v-2.50M120.07 214.60v2.50M122.31 365.00v-2.50M122.31 214.60v2.50M124.25 365.00v-2.50M124.25 214.60v2.50M125.97 365.00v-2.50M125.97 214.60v2.50M127.50 365.00v-5.00M127.50 214.60v5.00M137.58 365.00v-2.50M137.58 214.60v2.50M143.48 365.00v-2.50M143.48 214.60v2.50M147.67 365.00v-2.50M147.67 214.60v2.50M150.92 365.00v-2.50M150.92 214.60v2.50M153.57 365.00v-2.50M153.57 214.60v2.50M155.81 365.00v-2.50M155.81 214.60v2.50M157.75 365.00v-2.50M157.75 214.60v2.50M159.47 365.00v-2.50M159.47 214.60v2.50M161.00 365.00v-5.00M161.00 214.60v5.00M171.08 365.00v-2.50M171.08 214.60v2.50M176.98 365.00v-2.50M176.98 214.60v2.50M181.17 365.00v-2.50M181.17 214.60v2.50M184.42 365.00v-2.50M184.42 214.60v2.50M187.07 365.00v-2.50M187.07 214.60v2.50M189.31 365.00v-2.50M189.31 214.60v2.50M191.25 365.00v-2.50M191.25 214.60v2.50M192.97 365.00v-2.50M192.97 214.60v2.50M194.50 365.00v-5.00M194.50 214.60v5.00M204.58 365.00v-2.50M204.58 214.60v2.50M210.48 365.00v-2.50M210.48 214.60v2.50M214.67 365.00v-2.50M214.67 214.60v2.50M217.92 365.00v-2.50M217.92 214.60v2.50M220.57 365.00v-2.50M220.57 214.60v2.50M222.81 365.00v-2.50M222.81 214.60v2.50M224.75 365.00v-2.50M224.75 214.60v2.50M226.47 365.00v-2.50M226.47 214.60v2.50M228.00 365.00v-5.00M228.00 214.60v5.00M51.30 357.46h2.50M238.00 357.46h-2.50M51.30 353.51h2.50M238.00 353.51h-2.50M51.30 350.71h2.50M238.00 350.71h-2.50M51.30 348.54h2.50M238.00 348.54h-2.50M51.30 346.77h2.50M238.00 346.77h-2.50M51.30 345.27h2.50M238.00 345.27h-2.50M51.30 343.97h2.50M238.00 343.97h-2.50M51.30 342.82h2.50M238.00 342.82h-2.50M51.30 341.80h5.00M238.00 341.80h-5.00M51.30 335.06h2.50M238.00 335.06h-2.50M51.30 331.11h2.50M238.00 331.11h-2.50M51.30 328.31h2.50M238.00 328.31h-2.50M51.30 326.14h2.50M238.00 326.14h-2.50M51.30 324.37h2.50M238.00 324.37h-2.50M51.30 322.87h2.50M238.00 322.87h-2.50M51.30 321.57h2.50M238.00 321.57h-2.50M51.30 320.42h2.50M238.00 320.42h-2.50M51.30 319.40h5.00M238.00 319.40h-5.00M51.30 312.66h2.50M238.00 312.66h-2.50M51.30 308.71h2.50M238.00 308.71h-2.50M51.30 305.91h2.50M238.00 305.91h-2.50M51.30 303.74h2.50M238.00 303.74h-2.50M51.30 301.97h2.50M238.00 301.97h-2.50M51.30 300.47h2.50M238.00 300.47h-2.50M51.30 299.17h2.50M238.00 299.17h-2.50M51.30 298.02h2.50M238.00 298.02h-2.50M51.30 297.00h5.00M238.00 297.00h-5.00M51.30 290.26h2.50M238.00 290.26h-2.50M51.30 286.31h2.50M238.00 286.31h-2.50M51.30 283.51h2.50M238.00 283.51h-2.50M51.30 281.34h2.50M238.00 281.34h-2.50M51.30 279.57h2.50M238.00 279.57h-2.50M51.30 278.07h2.50M238.00 278.07h-2.50M51.30 276.77h2.50M238.00 276.77h-2.50M51.30 275.62h2.50M238.00 275.62h-2.50M51.30 274.60h5.00M238.00 274.60h-5.00M51.30 267.86h2.50M238.00 267.86h-2.50M51.30 263.91h2.50M238.00 263.91h-2.50M51.30 261.11h2.50M238.00 261.11h-2.50M51.30 258.94h2.50M238.00 258.94h-2.50M51.30 257.17h2.50M238.00 257.17h-2.50M51.30 255.67h2.50M238.00 255.67h-2.50M51.30 254.37h2.50M238.00 254.37h-2.50M51.30 253.22h2.50M238.00 253.22h-2.50M51.30 252.20h5.00M238.00 252.20h-5.00M51.30 245.46h2.50M238.00 245.46h-2.50M51.30 241.51h2.50M238.00 241.51h-2.50M51.30 238.71h2.50M238.00 238.71h-2.50M51.30 236.54h2.50M238.00 236.54h-2.50M51.30 234.77h2.50M238.00 234.77h-2.50M51.30 233.27h2.50M238.00 233.27h-2.50M51.30 231.97h2.50M238.00 231.97h-2.50M51.30 230.82h2.50M238.00 230.82h-2.50M51.30 229.80h5.00M238.00 229.80h-5.00M51.30 223.06h2.50M238.00 223.06h-2.50M51.30 219.11h2.50M238.00 219.11h-2.50M51.30 216.31h2.50M238.00 216.31h-2.50" stroke="#111" stroke-width="1.2" fill="none"/>
<rect x="51.3" y="214.6" width="186.7" height="150.4" fill="none" stroke="#111" stroke-width="1.8"/>
<path d="M171.8 288.3 L190.2 276.2 L190.2 288.3 Z" fill="none" stroke="#111" stroke-width="1.9" stroke-linejoin="miter" stroke-miterlimit="2.5"/>
<text x="194" y="288.3" font-size="15" font-weight="bold" letter-spacing="0.35" fill="#3350a8">1.11</text>
<polygon points="61.80,223.30 62.91,225.97 65.79,226.20 63.60,228.08 64.27,230.90 61.80,229.39 59.33,230.90 60.00,228.08 57.81,226.20 60.69,225.97" fill="#e8505e"/>
<text x="70" y="233" font-size="15.4">Gen-1</text>
<polygon points="61.70,241.20 66.20,249.03 57.20,249.03" fill="#3a72c8"/>
<text x="70" y="252" font-size="15.4">Gen-2</text>
<circle cx="61.70" cy="265.80" r="4.00" fill="#f07a28"/>
<text x="70" y="271" font-size="15.4">Gen-3</text>
<rect x="58.30" y="280.80" width="7.00" height="7.00" fill="#3cb371"/>
<text x="70" y="290" font-size="15.4">Gen-4</text>
<text x="27.5" y="235.0" font-size="12.8">10<tspan dy="-6.3" font-size="9.8">3</tspan></text>
<text x="27.5" y="279.8" font-size="12.8">10<tspan dy="-6.3" font-size="9.8">1</tspan></text>
<text x="27.5" y="324.6" font-size="12.8">10<tspan dy="-6.3" font-size="9.8">-1</tspan></text>
<text x="27.5" y="369.4" font-size="12.8">10<tspan dy="-6.3" font-size="9.8">-3</tspan></text>
<text x="90.2" y="381" font-size="15.5" text-anchor="middle">1E-5</text>
<text x="158.5" y="381.5" font-size="15.5" text-anchor="middle">0.001</text>
<text x="225.5" y="381" font-size="15.5" text-anchor="middle">0.1</text>
<text x="132" y="394" font-size="15">&#947;<tspan font-size="10" dy="3.6" dx="0.6">EP</tspan></text>
<g transform="translate(19.8,317) rotate(-90)"><text x="0.5" y="0" font-size="15.5">&#916;</text><text x="10.6" y="3.5" font-size="10.5">0</text><text x="21.5" y="0" font-size="15.5">(Hz)</text></g>
<text x="0" y="226" font-size="23">(b)</text>
<path d="M343.00 365.20v-4M343.00 214.50v4M389.90 365.20v-4M389.90 214.50v4M436.80 365.20v-4M436.80 214.50v4M295.80 363.00h5.00M484.00 363.00h-5.00M295.80 341.12h2.50M484.00 341.12h-2.50M295.80 328.31h2.50M484.00 328.31h-2.50M295.80 319.23h2.50M484.00 319.23h-2.50M295.80 312.18h2.50M484.00 312.18h-2.50M295.80 306.43h2.50M484.00 306.43h-2.50M295.80 301.56h2.50M484.00 301.56h-2.50M295.80 297.35h2.50M484.00 297.35h-2.50M295.80 293.63h2.50M484.00 293.63h-2.50M295.80 290.30h5.00M484.00 290.30h-5.00M295.80 268.42h2.50M484.00 268.42h-2.50M295.80 255.61h2.50M484.00 255.61h-2.50M295.80 246.53h2.50M484.00 246.53h-2.50M295.80 239.48h2.50M484.00 239.48h-2.50M295.80 233.73h2.50M484.00 233.73h-2.50M295.80 228.86h2.50M484.00 228.86h-2.50M295.80 224.65h2.50M484.00 224.65h-2.50M295.80 220.93h2.50M484.00 220.93h-2.50M295.80 217.60h5.00M484.00 217.60h-5.00" stroke="#111" stroke-width="1.2" fill="none"/>
<rect x="295.8" y="214.5" width="188.2" height="150.7" fill="none" stroke="#111" stroke-width="1.6"/>
<g>
<polygon points="324.60,219.76 328.85,227.16 320.35,227.16" fill="#3a70c8"/>
<polygon points="335.20,221.46 339.45,228.86 330.95,228.86" fill="#3a70c8"/>
<polygon points="352.30,218.96 356.55,226.36 348.05,226.36" fill="#3a70c8"/>
<polygon points="376.50,216.56 380.75,223.96 372.25,223.96" fill="#3a70c8"/>
<polygon points="455.50,209.06 459.75,216.46 451.25,216.46" fill="#3a70c8"/>
<polygon points="474.40,219.46 478.65,226.86 470.15,226.86" fill="#3a70c8"/>
<polygon points="300.60,241.86 304.85,249.26 296.35,249.26" fill="#3a70c8"/>
<polygon points="303.80,242.46 308.05,249.86 299.55,249.86" fill="#3a70c8"/>
<polygon points="308.00,243.56 312.25,250.96 303.75,250.96" fill="#3a70c8"/>
<polygon points="322.50,221.56 326.75,228.96 318.25,228.96" fill="#3a70c8"/>
<polygon points="295.80,349.56 300.05,356.96 291.55,356.96" fill="#3a70c8"/>
<circle cx="327.90" cy="229.10" r="3.50" fill="#f47c20"/>
<circle cx="333.60" cy="230.80" r="3.50" fill="#f47c20"/>
<circle cx="348.30" cy="228.30" r="3.50" fill="#f47c20"/>
<circle cx="314.00" cy="240.60" r="3.50" fill="#f47c20"/>
<circle cx="309.90" cy="243.00" r="3.50" fill="#f47c20"/>
<circle cx="417.40" cy="214.20" r="3.50" fill="#f47c20"/>
<circle cx="432.70" cy="221.20" r="3.50" fill="#f47c20"/>
<circle cx="446.80" cy="231.70" r="3.50" fill="#f47c20"/>
<circle cx="483.00" cy="249.00" r="3.50" fill="#f47c20"/>
<circle cx="310.00" cy="241.00" r="3.50" fill="#f47c20"/>
<circle cx="313.00" cy="239.00" r="3.50" fill="#f47c20"/>
<circle cx="316.00" cy="238.00" r="3.50" fill="#f47c20"/>
<circle cx="295.50" cy="296.30" r="3.50" fill="#f47c20"/>
<circle cx="295.50" cy="311.00" r="3.50" fill="#f47c20"/>
<circle cx="295.50" cy="331.00" r="3.50" fill="#f47c20"/>
<circle cx="303.00" cy="263.00" r="3.50" fill="#f47c20"/>
<circle cx="302.00" cy="256.00" r="3.50" fill="#f47c20"/>
<circle cx="300.50" cy="270.00" r="3.50" fill="#f47c20"/>
<circle cx="296.00" cy="304.00" r="3.50" fill="#f47c20"/>
<rect x="312.60" y="231.90" width="6.00" height="6.00" fill="#3cb371"/>
<rect x="317.50" y="231.00" width="6.00" height="6.00" fill="#3cb371"/>
<rect x="321.60" y="232.70" width="6.00" height="6.00" fill="#3cb371"/>
<rect x="321.60" y="238.40" width="6.00" height="6.00" fill="#3cb371"/>
<rect x="404.90" y="210.80" width="6.00" height="6.00" fill="#3cb371"/>
<rect x="433.90" y="214.90" width="6.00" height="6.00" fill="#3cb371"/>
<rect x="453.00" y="225.00" width="6.00" height="6.00" fill="#3cb371"/>
<rect x="480.00" y="243.50" width="6.00" height="6.00" fill="#3cb371"/>
<rect x="292.50" y="319.50" width="6.00" height="6.00" fill="#3cb371"/>
<rect x="292.50" y="334.50" width="6.00" height="6.00" fill="#3cb371"/>
<rect x="292.50" y="339.50" width="6.00" height="6.00" fill="#3cb371"/>
<rect x="292.50" y="343.00" width="6.00" height="6.00" fill="#3cb371"/>
<rect x="297.20" y="247.00" width="6.00" height="6.00" fill="#3cb371"/>
<rect x="300.00" y="248.00" width="6.00" height="6.00" fill="#3cb371"/>
<rect x="296.65" y="250.00" width="6.00" height="6.00" fill="#3cb371"/>
<rect x="299.32" y="251.00" width="6.00" height="6.00" fill="#3cb371"/>
<rect x="296.11" y="253.00" width="6.00" height="6.00" fill="#3cb371"/>
<rect x="298.64" y="254.00" width="6.00" height="6.00" fill="#3cb371"/>
<rect x="295.56" y="256.00" width="6.00" height="6.00" fill="#3cb371"/>
<rect x="297.95" y="257.00" width="6.00" height="6.00" fill="#3cb371"/>
<rect x="295.02" y="259.00" width="6.00" height="6.00" fill="#3cb371"/>
<rect x="297.27" y="260.00" width="6.00" height="6.00" fill="#3cb371"/>
<rect x="294.47" y="262.00" width="6.00" height="6.00" fill="#3cb371"/>
<rect x="296.59" y="263.00" width="6.00" height="6.00" fill="#3cb371"/>
<rect x="293.93" y="265.00" width="6.00" height="6.00" fill="#3cb371"/>
<rect x="295.91" y="266.00" width="6.00" height="6.00" fill="#3cb371"/>
<rect x="293.38" y="268.00" width="6.00" height="6.00" fill="#3cb371"/>
<rect x="295.23" y="269.00" width="6.00" height="6.00" fill="#3cb371"/>
<rect x="293.20" y="271.00" width="6.00" height="6.00" fill="#3cb371"/>
<rect x="295.00" y="272.00" width="6.00" height="6.00" fill="#3cb371"/>
<rect x="293.20" y="274.00" width="6.00" height="6.00" fill="#3cb371"/>
<rect x="295.00" y="275.00" width="6.00" height="6.00" fill="#3cb371"/>
<rect x="293.20" y="277.00" width="6.00" height="6.00" fill="#3cb371"/>
<rect x="295.00" y="278.00" width="6.00" height="6.00" fill="#3cb371"/>
<rect x="293.20" y="280.00" width="6.00" height="6.00" fill="#3cb371"/>
<rect x="295.00" y="281.00" width="6.00" height="6.00" fill="#3cb371"/>
<rect x="293.20" y="283.00" width="6.00" height="6.00" fill="#3cb371"/>
<rect x="295.00" y="284.00" width="6.00" height="6.00" fill="#3cb371"/>
<rect x="293.20" y="286.00" width="6.00" height="6.00" fill="#3cb371"/>
<rect x="295.00" y="287.00" width="6.00" height="6.00" fill="#3cb371"/>
<rect x="293.20" y="289.00" width="6.00" height="6.00" fill="#3cb371"/>
<rect x="295.00" y="290.00" width="6.00" height="6.00" fill="#3cb371"/>
<rect x="293.20" y="292.00" width="6.00" height="6.00" fill="#3cb371"/>
<rect x="295.00" y="293.00" width="6.00" height="6.00" fill="#3cb371"/>
<rect x="293.20" y="295.00" width="6.00" height="6.00" fill="#3cb371"/>
<rect x="295.00" y="296.00" width="6.00" height="6.00" fill="#3cb371"/>
<rect x="292.80" y="300.00" width="6.00" height="6.00" fill="#3cb371"/>
<rect x="292.80" y="303.00" width="6.00" height="6.00" fill="#3cb371"/>
<rect x="292.80" y="315.00" width="6.00" height="6.00" fill="#3cb371"/>
<rect x="292.80" y="319.50" width="6.00" height="6.00" fill="#3cb371"/>
<rect x="292.80" y="334.50" width="6.00" height="6.00" fill="#3cb371"/>
<rect x="292.80" y="339.50" width="6.00" height="6.00" fill="#3cb371"/>
<rect x="292.80" y="343.00" width="6.00" height="6.00" fill="#3cb371"/>
<rect x="292.80" y="346.00" width="6.00" height="6.00" fill="#3cb371"/>
<polygon points="370.60,210.10 371.71,212.77 374.59,213.00 372.40,214.88 373.07,217.70 370.60,216.19 368.13,217.70 368.80,214.88 366.61,213.00 369.49,212.77" fill="#e8505e"/>
<polygon points="379.30,216.80 380.41,219.47 383.29,219.70 381.10,221.58 381.77,224.40 379.30,222.89 376.83,224.40 377.50,221.58 375.31,219.70 378.19,219.47" fill="#e8505e"/>
<polygon points="406.40,223.20 407.51,225.87 410.39,226.10 408.20,227.98 408.87,230.80 406.40,229.29 403.93,230.80 404.60,227.98 402.41,226.10 405.29,225.87" fill="#e8505e"/>
<polygon points="482.90,232.40 484.01,235.07 486.89,235.30 484.70,237.18 485.37,240.00 482.90,238.49 480.43,240.00 481.10,237.18 478.91,235.30 481.79,235.07" fill="#e8505e"/>
</g>
<text x="291.5" y="225" font-size="15.5" text-anchor="end">1</text>
<text x="291.5" y="297" font-size="15.5" text-anchor="end">0.1</text>
<text x="291.5" y="370" font-size="15.5" text-anchor="end">0.01</text>
<text x="301" y="382.3" font-size="15.5" text-anchor="middle">0.0</text>
<text x="389" y="382.3" font-size="15.5" text-anchor="middle">0.5</text>
<text x="480" y="382.3" font-size="15.5" text-anchor="middle">1.0</text>
<text x="382" y="396.2" font-size="15" transform="translate(382,0) scale(0.83,1) translate(-382,0)">&#916;</text><text x="391.5" y="399.6" font-size="10">0</text>
<text x="329" y="297.8" font-size="15" font-weight="bold"><tspan font-style="italic">k</tspan> = 0.77</text>
<g transform="translate(266,330) rotate(-90)"><path d="M2.2 -0.8 C3.2 0.6 4.6 -0.2 5.0 -2.5 L6.2 -10.8 L9.8 -1.0 L11.6 -9.8 C11.9 -11.2 12.8 -11.6 13.8 -11.0" fill="none" stroke="#000" stroke-width="1.35" stroke-linecap="round" stroke-linejoin="round"/><text x="14" y="0" font-size="16.5">(</text><text x="19.5" y="0" font-size="16.5" transform="translate(19.5,0) scale(0.8,1) translate(-19.5,0)">&#916;</text><text x="28.5" y="3" font-size="10.5">0</text><text x="35.5" y="0" font-size="16.5">)</text><text x="47.5" y="0.5" font-size="19">&#215;</text><text x="63.5" y="0" font-size="16.5" transform="translate(63.5,0) scale(0.8,1) translate(-63.5,0)">&#916;</text><text x="73.5" y="3" font-size="10.5">0</text><text x="73.5" y="-9" font-size="10.5" font-style="italic">k</text></g>
<text x="248" y="226" font-size="23" letter-spacing="0.9">(c)</text>
<polygon points="414.90,285.10 416.04,287.83 418.99,288.07 416.74,290.00 417.43,292.88 414.90,291.33 412.37,292.88 413.06,290.00 410.81,288.07 413.76,287.83" fill="#e8505e"/>
<text x="429" y="294.6" font-size="15.4">Gen-1</text>
<polygon points="414.90,303.40 419.40,311.23 410.40,311.23" fill="#3a70c8"/>
<text x="429" y="313.3" font-size="15.4">Gen-2</text>
<circle cx="414.90" cy="327.20" r="4.00" fill="#f47c20"/>
<text x="429" y="332.2" font-size="15.4">Gen-3</text>
<rect x="411.40" y="342.40" width="7.00" height="7.00" fill="#3cb371"/>
<text x="429" y="351.3" font-size="15.4">Gen-4</text>
</svg></body></html>
